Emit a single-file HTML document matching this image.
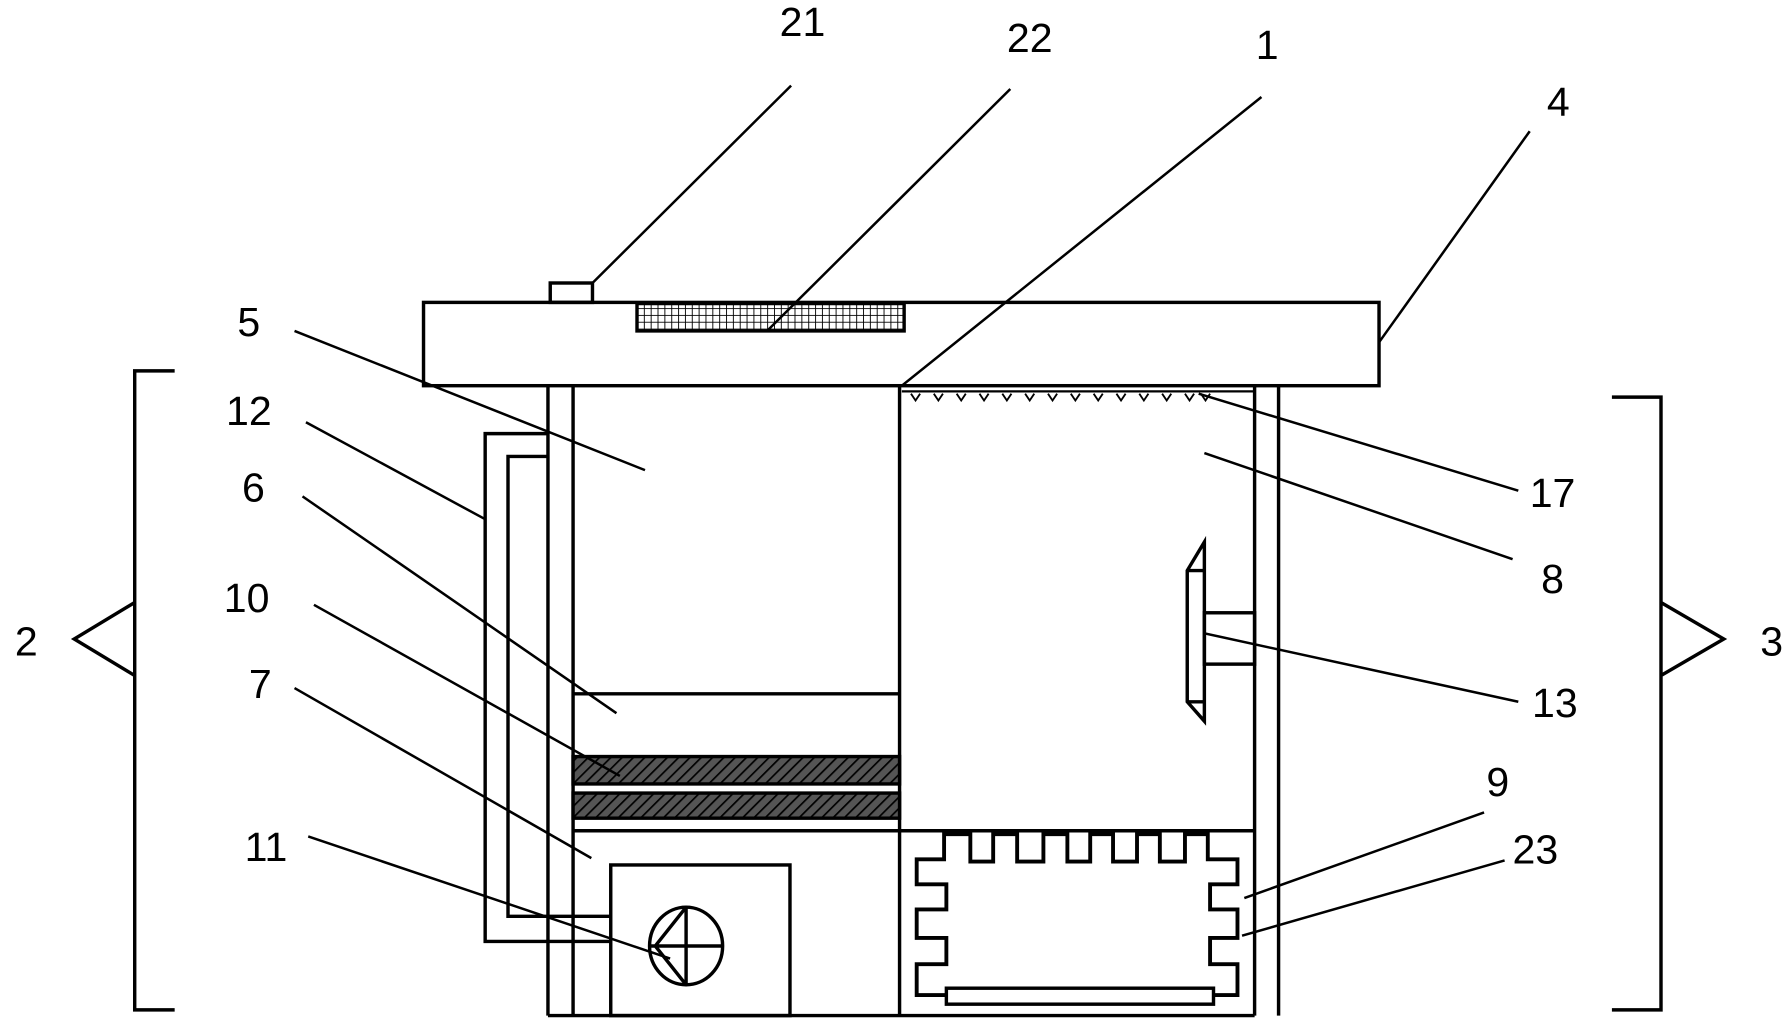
<!DOCTYPE html>
<html><head><meta charset="utf-8"><style>html,body{margin:0;padding:0;background:#fff}svg{display:block}</style></head>
<body>
<svg width="1790" height="1027" viewBox="0 0 1568 900" preserveAspectRatio="none" xmlns="http://www.w3.org/2000/svg">
<defs>
<pattern id="mesh" width="6" height="6" patternUnits="userSpaceOnUse"><rect width="6" height="6" fill="#fff"/><path d="M0 0H6M0 0V6" stroke="#000" stroke-width="1.6"/></pattern>
<pattern id="hatch" width="7" height="7" patternUnits="userSpaceOnUse" patternTransform="rotate(45)"><rect width="7" height="7" fill="#555"/><path d="M0 0V7" stroke="#000" stroke-width="3"/></pattern>
</defs>
<g fill="none" stroke="#000" stroke-width="3">
<rect x="371" y="265" width="837" height="73" fill="#fff"/>
<rect x="482" y="248" width="37" height="17"/>
<rect x="558" y="266" width="234" height="24" fill="url(#mesh)"/>
<path d="M480 338V890M502 338V890M1099 338V890M1120 338V890M480 890H1099M788 338V890"/>
<path d="M502 608H788M502 728H1099"/>
<rect x="502" y="663" width="286" height="24" fill="url(#hatch)"/>
<rect x="502" y="695" width="286" height="22" fill="url(#hatch)"/>
<rect x="535" y="758" width="157" height="132"/>
<ellipse cx="601" cy="829" rx="32" ry="34"/>
<path d="M601 795V863M569 829H633M601 795L574 829L601 863"/>
<path d="M480 380H425V825H535M480 400H445V803H535"/>
<path d="M790 343H1099" stroke-width="2"/>
<path d="M798 345l4 6 4-6M818 345l4 6 4-6M838 345l4 6 4-6M858 345l4 6 4-6M878 345l4 6 4-6M898 345l4 6 4-6M918 345l4 6 4-6M938 345l4 6 4-6M958 345l4 6 4-6M978 345l4 6 4-6M998 345l4 6 4-6M1018 345l4 6 4-6M1038 345l4 6 4-6M1052 345l4 6 4-6" stroke-width="1.6"/>
<path d="M1055 475L1040 500V615L1055 632ZM1040 500H1055M1040 615H1055"/>
<rect x="1055" y="537" width="44" height="45"/>
<path d="M803 872V845H829V822H803V797H829V775H803V753H827V731H850V755H870V731H891V755H914V731H935V755H955V731H975V755H996V731H1016V755H1038V731H1058V753H1084V775H1060V797H1084V822H1060V845H1084V872Z" stroke-width="3.4"/>
<rect x="829" y="866" width="234" height="14" fill="#fff"/>
<path d="M153 325H118V885H153M118 528L65 560L118 592"/>
<path d="M1412 348H1455V885H1412M1455 528L1510 560L1455 592"/>
<g stroke-width="2.2">
<path d="M693 75L519 248M885 78L672 290M1105 85L790 338M1340 115L1208 300M258 290L565 412M268 370L425 455M265 435L540 625M275 530L543 680M258 603L518 752M270 733L587 840M1330 430L1050 345M1325 490L1055 397M1330 615L1055 555M1300 712L1090 787M1318 754L1088 820"/>
</g>
</g>
<g font-family="Liberation Sans, sans-serif" font-size="36" text-anchor="middle" dominant-baseline="middle" fill="#000">
<text x="703" y="22">21</text><text x="902" y="36">22</text><text x="1110" y="42">1</text><text x="1365" y="92">4</text>
<text x="218" y="285">5</text><text x="218" y="363">12</text><text x="222" y="430">6</text><text x="216" y="527">10</text>
<text x="228" y="602">7</text><text x="233" y="745">11</text><text x="1360" y="435">17</text><text x="1360" y="510">8</text>
<text x="1362" y="619">13</text><text x="1312" y="688">9</text><text x="1345" y="747">23</text>
<text x="23" y="565">2</text><text x="1552" y="565">3</text>
</g>
</svg>
</body></html>
